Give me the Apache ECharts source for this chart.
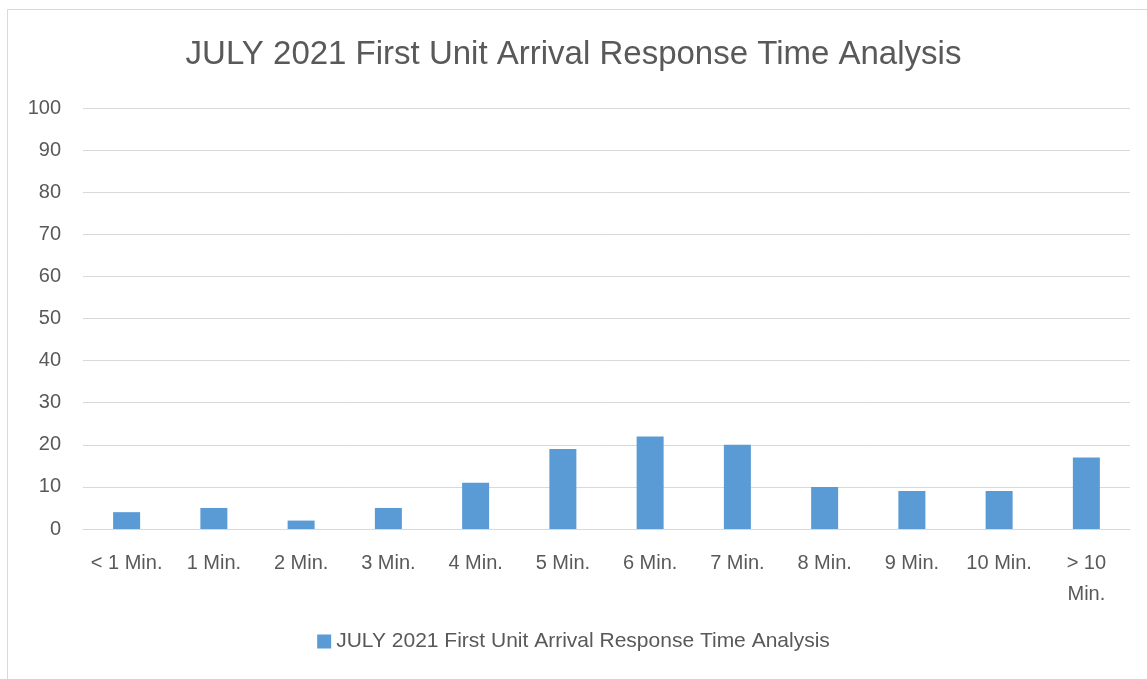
<!DOCTYPE html>
<html><head><meta charset="utf-8">
<script src="https://cdn.jsdelivr.net/npm/echarts@6/dist/echarts.min.js"></script>
<style>html,body{margin:0;padding:0;background:#fff}#c{width:1147px;height:679px}</style>
</head><body><div id="c"></div>
<script>
const title = 'JULY 2021 First Unit Arrival Response Time Analysis';
const categories = ['< 1 Min.','1 Min.','2 Min.','3 Min.','4 Min.','5 Min.','6 Min.','7 Min.','8 Min.','9 Min.','10 Min.','> 10 Min.'];
const values = [4,5,2,5,11,19,22,20,10,9,9,17];
const yTicks = {min:0, max:100, interval:10};
const FONT = 'Liberation Sans';
const chart = echarts.init(document.getElementById('c'), null, {renderer:'canvas'});
chart.setOption({
  animation:false,
  graphic:[{type:'rect', shape:{x:7.5,y:9.5,width:1160,height:700}, style:{fill:'none',stroke:'#d9d9d9',lineWidth:1}, silent:true}],
  title:{text:title, left:'center', top:33, textStyle:{fontFamily:FONT, fontSize:33, fontWeight:'normal', color:'#595959'}},
  grid:{left:83, right:17, top:108, bottom:150, containLabel:false},
  legend:{bottom:22, left:'center', itemWidth:14, itemHeight:14, itemGap:5, icon:'rect',
    textStyle:{fontFamily:FONT, fontSize:21, color:'#595959'}},
  xAxis:{type:'category', data:categories,
    axisLine:{lineStyle:{color:'#d9d9d9', width:1}}, axisTick:{show:false},
    axisLabel:{fontFamily:FONT, fontSize:20, color:'#595959', margin:19, lineHeight:31, interval:0,
      formatter:v => v === '> 10 Min.' ? '> 10\nMin.' : v}},
  yAxis:{type:'value', min:yTicks.min, max:yTicks.max, interval:yTicks.interval,
    axisLine:{show:false}, axisTick:{show:false},
    splitLine:{lineStyle:{color:'#d9d9d9', width:1}},
    axisLabel:{fontFamily:FONT, fontSize:20, color:'#595959', margin:22}},
  series:[{name:title, type:'bar', data:values, barWidth:27, itemStyle:{color:'#5b9bd5'}}]
});
</script></body></html>
